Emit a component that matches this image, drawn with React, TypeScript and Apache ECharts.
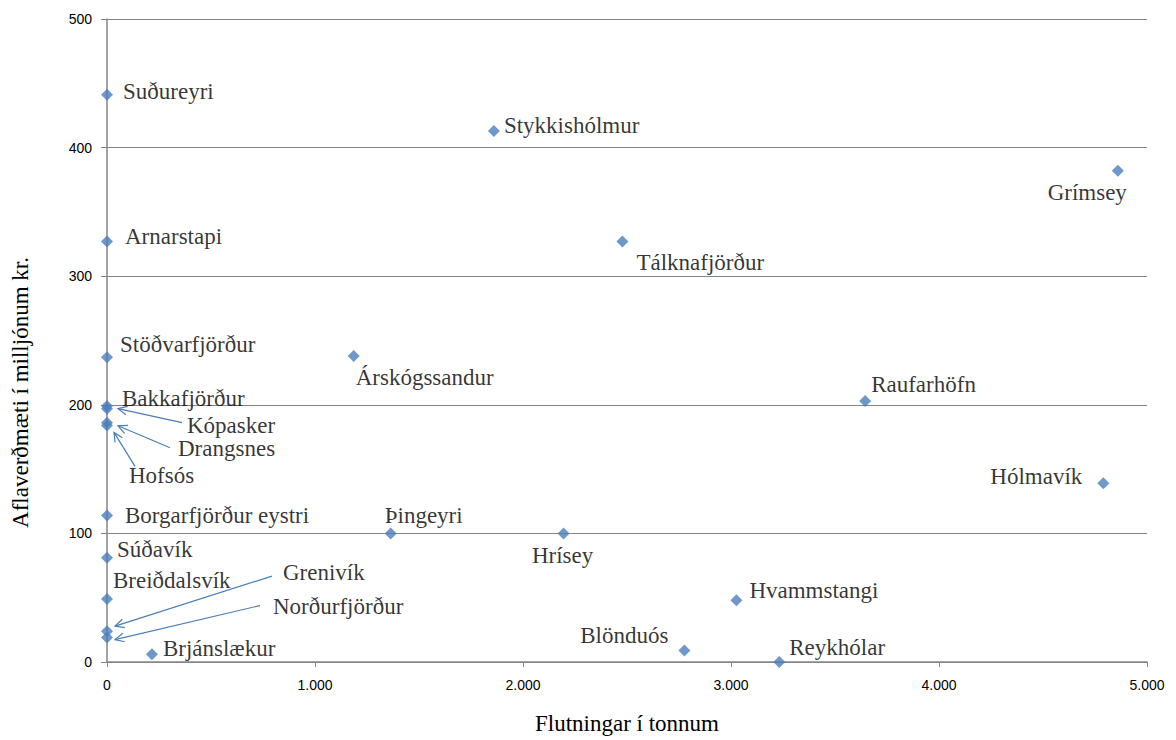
import React, { useEffect, useRef } from "react";
import * as echarts from "echarts";

// ---- Data ----
const places = [
  "Suðureyri", "Stykkishólmur", "Grímsey", "Arnarstapi", "Tálknafjörður",
  "Stöðvarfjörður", "Árskógssandur", "Raufarhöfn", "Bakkafjörður", "Kópasker",
  "Drangsnes", "Hofsós", "Hólmavík", "Borgarfjörður eystri", "Þingeyri",
  "Hrísey", "Súðavík", "Breiðdalsvík", "Hvammstangi", "Grenivík",
  "Norðurfjörður", "Blönduós", "Brjánslækur", "Reykhólar",
];
const tonnes = [
  0, 1860, 4860, 0, 2478,
  0, 1186, 3645, 0, 0,
  0, 0, 4790, 0, 1364,
  2195, 0, 0, 3026, 0,
  0, 2776, 216, 3232,
];
const values = [
  441, 413, 382, 327, 327,
  237, 238, 203, 199, 197,
  186, 184, 139, 114, 100,
  100, 81, 49, 48, 24,
  19, 9, 6, 0,
];
const xTicks = [0, 1000, 2000, 3000, 4000, 5000];
const yTicks = [0, 100, 200, 300, 400, 500];

// ---- Label placement (pixel offsets from the marker) ----
type Lab = { dx: number; dy: number; align?: "left" | "center" | "right" };
const labelStyle: Record<string, Lab> = {
  "Suðureyri": { dx: 16, dy: -3 },
  "Stykkishólmur": { dx: 10, dy: -5 },
  "Grímsey": { dx: 9, dy: 22, align: "right" },
  "Arnarstapi": { dx: 18, dy: -5 },
  "Tálknafjörður": { dx: 14, dy: 21 },
  "Stöðvarfjörður": { dx: 13, dy: -13 },
  "Árskógssandur": { dx: 2, dy: 22 },
  "Raufarhöfn": { dx: 6, dy: -16 },
  "Bakkafjörður": { dx: 15, dy: -8 },
  "Kópasker": { dx: 80, dy: 17 },
  "Drangsnes": { dx: 71, dy: 26 },
  "Hofsós": { dx: 22, dy: 50 },
  "Hólmavík": { dx: -21, dy: -7, align: "right" },
  "Borgarfjörður eystri": { dx: 18, dy: 0 },
  "Þingeyri": { dx: -6, dy: -18 },
  "Hrísey": { dx: -1, dy: 22, align: "center" },
  "Súðavík": { dx: 10, dy: -8 },
  "Breiðdalsvík": { dx: 6, dy: -18 },
  "Hvammstangi": { dx: 13, dy: -10 },
  "Grenivík": { dx: 176, dy: -59 },
  "Norðurfjörður": { dx: 166, dy: -31 },
  "Blönduós": { dx: -16, dy: -15, align: "right" },
  "Brjánslækur": { dx: 11, dy: -6 },
  "Reykhólar": { dx: 10, dy: -15 },
};

// Arrow pointers: tail and head offsets (pixels) from the marker
const arrowStyle: Record<string, { tail: [number, number]; head: [number, number] }> = {
  "Kópasker": { tail: [75, 14], head: [11, 0] },
  "Drangsnes": { tail: [63, 25], head: [11, 3] },
  "Hofsós": { tail: [28, 41], head: [7, 7] },
  "Grenivík": { tail: [165, -55], head: [8, -5] },
  "Norðurfjörður": { tail: [153, -32], head: [8, 2] },
};

const SYMBOL = 12;
const BLUE = "#4A7EBB";
const SERIF = "Liberation Serif";
const SANS = "Liberation Sans";

const fmtThousands = (v: number) =>
  String(Math.round(v)).replace(/\B(?=(\d{3})+(?!\d))/g, ".");

export default function App() {
  const ref = useRef<HTMLDivElement>(null);

  useEffect(() => {
    if (!ref.current) return;
    const chart = echarts.init(ref.current, undefined, { renderer: "svg" });

    const scatterData = places.map((name, i) => {
      const l = labelStyle[name] || { dx: 10, dy: 0 };
      return {
        name,
        value: [tonnes[i], values[i]],
        label: {
          position: [l.dx + SYMBOL / 2, l.dy + SYMBOL / 2],
          align: l.align || "left",
          verticalAlign: "middle",
        },
      };
    });

    const arrowData = places
      .map((name, i) => ({ name, i }))
      .filter((d) => arrowStyle[d.name])
      .map((d) => ({ name: d.name, value: [tonnes[d.i], values[d.i]] }));

    const option: any = {
      animation: false,
      backgroundColor: "#ffffff",
      grid: { left: 107, right: 29, top: 19, bottom: 70, containLabel: false },
      xAxis: {
        type: "value",
        min: 0,
        max: 5000,
        interval: 1000,
        name: "Flutningar í tonnum",
        nameLocation: "middle",
        nameGap: 50,
        nameTextStyle: { fontFamily: SERIF, fontSize: 23, color: "#000" },
        axisLine: { show: true, lineStyle: { color: "#868686", width: 1.5 } },
        axisTick: { show: true, length: 5, lineStyle: { color: "#868686" } },
        splitLine: { show: false },
        axisLabel: {
          fontFamily: SANS,
          fontSize: 14,
          color: "#000",
          margin: 16,
          formatter: (v: number) => (xTicks.includes(v) ? fmtThousands(v) : ""),
        },
      },
      yAxis: {
        type: "value",
        min: 0,
        max: 500,
        interval: 100,
        name: "Aflaverðmæti í milljónum kr.",
        nameLocation: "middle",
        nameGap: 75,
        nameTextStyle: {
          fontFamily: SERIF,
          fontSize: 23,
          color: "#000",
          padding: [0, 104, 0, 0],
        },
        axisLine: { show: true, lineStyle: { color: "#868686", width: 1.5 } },
        axisTick: { show: true, length: 6, lineStyle: { color: "#868686" } },
        splitLine: { show: true, lineStyle: { color: "#868686", width: 1 } },
        axisLabel: {
          fontFamily: SANS,
          fontSize: 14,
          color: "#000",
          margin: 15,
          formatter: (v: number) => (yTicks.includes(v) ? String(v) : ""),
        },
      },
      series: [
        {
          type: "scatter",
          symbol: "diamond",
          symbolSize: SYMBOL,
          itemStyle: { color: BLUE },
          data: scatterData,
          label: {
            show: true,
            formatter: "{b}",
            fontFamily: SERIF,
            fontSize: 23,
            color: "#000",
          },
          z: 3,
        },
        {
          type: "custom",
          coordinateSystem: "cartesian2d",
          data: arrowData,
          silent: true,
          z: 4,
          renderItem: (params: any, api: any) => {
            const name = arrowData[params.dataIndex].name;
            const a = arrowStyle[name];
            const p = api.coord([api.value(0), api.value(1)]);
            const tx = p[0] + a.tail[0];
            const ty = p[1] + a.tail[1];
            const hx = p[0] + a.head[0];
            const hy = p[1] + a.head[1];
            const ang = Math.atan2(ty - hy, tx - hx);
            const L = 10;
            const spread = 0.45;
            const w1 = [hx + L * Math.cos(ang + spread), hy + L * Math.sin(ang + spread)];
            const w2 = [hx + L * Math.cos(ang - spread), hy + L * Math.sin(ang - spread)];
            const style = { stroke: BLUE, lineWidth: 1.2, fill: "none" };
            return {
              type: "group",
              children: [
                { type: "line", shape: { x1: tx, y1: ty, x2: hx, y2: hy }, style },
                { type: "polyline", shape: { points: [w1, [hx, hy], w2] }, style },
              ],
            };
          },
        },
      ],
    };

    chart.setOption(option);
    return () => chart.dispose();
  }, []);

  return (
    <div
      ref={ref}
      style={{ width: 1176, height: 740, position: "absolute", left: 0, top: 0 }}
    />
  );
}
